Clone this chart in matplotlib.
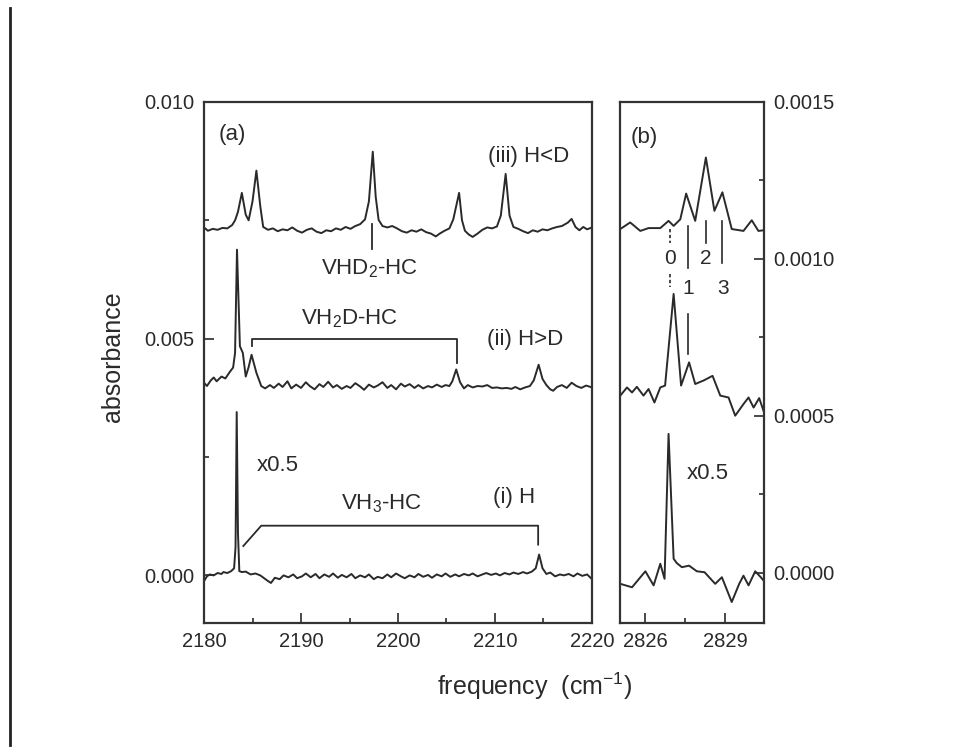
import matplotlib
matplotlib.use("Agg")
import matplotlib.pyplot as plt
from matplotlib.ticker import MultipleLocator, FormatStrFormatter
from matplotlib.lines import Line2D

# --- dati: (frequenza cm-1, assorbanza) ---
# pannello (a)
trace_iii_a = [
    (2180.0, 0.00735), (2180.4, 0.00728), (2180.9, 0.00732), (2181.4, 0.00730), (2181.9, 0.00734),
    (2182.4, 0.00733), (2182.9, 0.00740), (2183.2, 0.00750), (2183.5, 0.00768), (2183.9, 0.00808),
    (2184.3, 0.00762), (2184.6, 0.00750), (2185.0, 0.00790), (2185.4, 0.00855), (2185.8, 0.00780),
    (2186.1, 0.00736), (2186.6, 0.00730), (2187.1, 0.00733), (2187.6, 0.00727), (2188.1, 0.00731),
    (2188.6, 0.00729), (2189.1, 0.00735), (2189.6, 0.00728), (2190.1, 0.00724), (2190.6, 0.00730),
    (2191.1, 0.00733), (2191.6, 0.00726), (2192.1, 0.00723), (2192.6, 0.00729), (2193.1, 0.00727),
    (2193.6, 0.00733), (2194.1, 0.00730), (2194.6, 0.00736), (2195.1, 0.00732), (2195.6, 0.00738),
    (2196.1, 0.00742), (2196.6, 0.00752), (2197.0, 0.00790), (2197.4, 0.00895), (2197.7, 0.00800),
    (2198.0, 0.00751), (2198.4, 0.00738), (2198.9, 0.00735), (2199.4, 0.00738), (2199.9, 0.00733),
    (2200.4, 0.00727), (2200.9, 0.00724), (2201.4, 0.00729), (2201.9, 0.00726), (2202.4, 0.00731),
    (2202.9, 0.00725), (2203.4, 0.00722), (2203.9, 0.00716), (2204.3, 0.00722), (2204.8, 0.00728),
    (2205.3, 0.00733), (2205.7, 0.00752), (2206.0, 0.00780), (2206.3, 0.00808), (2206.6, 0.00750),
    (2206.9, 0.00728), (2207.3, 0.00720), (2207.7, 0.00715), (2208.2, 0.00722), (2208.7, 0.00730),
    (2209.2, 0.00735), (2209.7, 0.00733), (2210.2, 0.00737), (2210.6, 0.00760), (2211.1, 0.00848),
    (2211.5, 0.00760), (2211.9, 0.00736), (2212.4, 0.00732), (2212.9, 0.00727), (2213.4, 0.00723),
    (2213.9, 0.00729), (2214.4, 0.00726), (2214.9, 0.00731), (2215.4, 0.00729), (2215.9, 0.00733),
    (2216.4, 0.00736), (2216.9, 0.00738), (2217.5, 0.00745), (2217.9, 0.00753), (2218.3, 0.00736),
    (2218.7, 0.00729), (2219.1, 0.00736), (2219.5, 0.00731), (2220.0, 0.00735),
]

trace_ii_a = [
    (2180.0, 0.00407), (2180.3, 0.00400), (2180.7, 0.00412), (2181.0, 0.00418), (2181.3, 0.00410),
    (2181.8, 0.00420), (2182.2, 0.00416), (2182.7, 0.00431), (2183.0, 0.00439), (2183.2, 0.00470),
    (2183.4, 0.00688), (2183.7, 0.00484), (2184.0, 0.00470), (2184.3, 0.00420), (2184.6, 0.00440),
    (2184.9, 0.00466), (2185.4, 0.00428), (2185.9, 0.00400), (2186.3, 0.00395), (2186.8, 0.00402),
    (2187.2, 0.00396), (2187.7, 0.00405), (2188.1, 0.00398), (2188.6, 0.00410), (2189.0, 0.00395),
    (2189.5, 0.00403), (2190.0, 0.00396), (2190.5, 0.00408), (2190.9, 0.00400), (2191.4, 0.00393),
    (2191.9, 0.00404), (2192.3, 0.00398), (2192.8, 0.00409), (2193.3, 0.00397), (2193.7, 0.00402),
    (2194.2, 0.00394), (2194.7, 0.00400), (2195.1, 0.00396), (2195.6, 0.00406), (2196.1, 0.00399),
    (2196.5, 0.00392), (2197.0, 0.00403), (2197.5, 0.00397), (2197.9, 0.00401), (2198.4, 0.00408),
    (2198.9, 0.00396), (2199.3, 0.00402), (2199.8, 0.00393), (2200.3, 0.00405), (2200.7, 0.00399),
    (2201.2, 0.00404), (2201.7, 0.00396), (2202.1, 0.00402), (2202.6, 0.00395), (2203.1, 0.00400),
    (2203.5, 0.00397), (2204.0, 0.00403), (2204.5, 0.00398), (2204.9, 0.00402), (2205.3, 0.00400),
    (2205.6, 0.00410), (2206.0, 0.00435), (2206.4, 0.00408), (2206.8, 0.00395), (2207.2, 0.00402),
    (2207.7, 0.00397), (2208.2, 0.00400), (2208.7, 0.00399), (2209.2, 0.00402), (2209.7, 0.00396),
    (2210.2, 0.00397), (2210.7, 0.00395), (2211.2, 0.00396), (2211.7, 0.00394), (2212.1, 0.00398),
    (2212.6, 0.00393), (2213.1, 0.00397), (2213.6, 0.00400), (2214.0, 0.00412), (2214.5, 0.00445),
    (2214.9, 0.00415), (2215.3, 0.00402), (2215.7, 0.00393), (2216.0, 0.00390), (2216.4, 0.00398),
    (2216.9, 0.00402), (2217.4, 0.00396), (2217.9, 0.00407), (2218.4, 0.00400), (2218.9, 0.00396),
    (2219.4, 0.00401), (2220.0, 0.00397),
]

trace_i_a = [
    (2180.0, -0.00012), (2180.3, -0.00002), (2180.6, 0.00002), (2181.0, 0.00000), (2181.4, 0.00005),
    (2181.8, 0.00003), (2182.0, 0.00007), (2182.4, 0.00005), (2182.8, 0.00009), (2183.1, 0.00015),
    (2183.25, 0.00060), (2183.37, 0.00345), (2183.5, 0.00090), (2183.64, 0.00009), (2183.9, 0.00007),
    (2184.3, 0.00008), (2184.8, 0.00002), (2185.3, 0.00004), (2185.8, 0.00000), (2186.2, -0.00006),
    (2186.6, -0.00012), (2186.9, -0.00016), (2187.3, -0.00005), (2187.8, -0.00008), (2188.2, 0.00000),
    (2188.7, -0.00004), (2189.2, 0.00002), (2189.6, -0.00006), (2190.1, -0.00002), (2190.5, 0.00004),
    (2191.0, -0.00004), (2191.5, 0.00003), (2191.9, -0.00006), (2192.4, 0.00002), (2192.9, -0.00003),
    (2193.3, 0.00004), (2193.8, -0.00005), (2194.2, 0.00001), (2194.7, -0.00004), (2195.2, 0.00003),
    (2195.6, -0.00006), (2196.1, 0.00000), (2196.6, -0.00004), (2197.0, 0.00002), (2197.5, -0.00008),
    (2197.9, -0.00003), (2198.4, -0.00006), (2198.9, 0.00002), (2199.3, -0.00004), (2199.8, 0.00004),
    (2200.3, -0.00002), (2200.7, -0.00006), (2201.2, 0.00000), (2201.7, -0.00004), (2202.1, 0.00003),
    (2202.6, -0.00003), (2203.1, 0.00001), (2203.5, -0.00005), (2204.0, 0.00002), (2204.5, -0.00002),
    (2204.9, 0.00004), (2205.4, -0.00003), (2205.9, 0.00002), (2206.3, -0.00002), (2206.8, 0.00003),
    (2207.3, 0.00000), (2207.7, 0.00004), (2208.2, -0.00002), (2208.7, 0.00002), (2209.1, 0.00005),
    (2209.6, 0.00001), (2210.1, 0.00004), (2210.5, 0.00000), (2211.0, 0.00005), (2211.5, 0.00002),
    (2211.9, 0.00006), (2212.4, 0.00003), (2212.9, 0.00007), (2213.3, 0.00004), (2213.8, 0.00008),
    (2214.2, 0.00015), (2214.55, 0.00044), (2214.9, 0.00015), (2215.3, 0.00003), (2215.7, 0.00006),
    (2216.2, -0.00002), (2216.7, 0.00002), (2217.1, 0.00000), (2217.6, 0.00003), (2218.1, -0.00002),
    (2218.5, 0.00004), (2219.0, -0.00001), (2219.5, 0.00002), (2220.0, -0.00008),
]

# pannello (b), asse destro
trace_iii_b = [
    (2825.06, 0.001095), (2825.43, 0.001116), (2825.81, 0.001089), (2826.12, 0.001098),
    (2826.56, 0.001098), (2826.87, 0.001121), (2827.06, 0.001105), (2827.31, 0.001126),
    (2827.53, 0.001208), (2827.87, 0.001121), (2828.27, 0.001323), (2828.59, 0.001153),
    (2828.89, 0.001212), (2829.24, 0.001095), (2829.68, 0.001089), (2829.99, 0.001123),
    (2830.24, 0.001089), (2830.43, 0.001091),
]

trace_ii_b = [
    (2825.06, 0.000564), (2825.31, 0.000590), (2825.50, 0.000574), (2825.68, 0.000592),
    (2825.93, 0.000564), (2826.12, 0.000585), (2826.34, 0.000542), (2826.56, 0.000590),
    (2826.74, 0.000596), (2827.06, 0.000888), (2827.34, 0.000596), (2827.64, 0.000670),
    (2827.87, 0.000601), (2828.18, 0.000612), (2828.52, 0.000627), (2828.81, 0.000564),
    (2829.12, 0.000558), (2829.37, 0.000500), (2829.68, 0.000537), (2829.87, 0.000558),
    (2830.06, 0.000526), (2830.27, 0.000556), (2830.43, 0.000516),
]

trace_i_b = [
    (2825.06, -0.000036), (2825.50, -0.000047), (2826.00, 0.000004), (2826.31, -0.000041),
    (2826.56, 0.000028), (2826.72, -0.000020), (2826.87, 0.000442), (2827.06, 0.000044),
    (2827.18, 0.000030), (2827.37, 0.000017), (2827.64, 0.000022), (2827.93, 0.000004),
    (2828.22, 0.000001), (2828.62, -0.000036), (2828.87, -0.000015), (2829.24, -0.000094),
    (2829.52, -0.000036), (2829.68, -0.000010), (2829.87, -0.000041), (2830.12, 0.000004),
    (2830.33, -0.000015), (2830.43, -0.000025),
]

# parentesi di assegnazione (a)
bracket_vh2d = ([2184.98, 2184.98, 2206.05, 2206.05], [0.00484, 0.00499, 0.00499, 0.00449])
bracket_vh3 = ([2184.05, 2185.9, 2214.45, 2214.45], [0.00062, 0.00105, 0.00105, 0.00065])
mark_vhd2 = ([2197.3, 2197.3], [0.00742, 0.00690])

# marcatori 0-3 nel pannello (b)
marks_b = [
    ([2826.93, 2826.93], [0.001095, 0.001052], True),
    ([2826.93, 2826.93], [0.000951, 0.000909], True),
    ([2827.60, 2827.60], [0.001105, 0.000972], False),
    ([2827.60, 2827.60], [0.000824, 0.000696], False),
    ([2828.27, 2828.27], [0.001121, 0.001052], False),
    ([2828.87, 2828.87], [0.001121, 0.000988], False),
]
num_labels_b = [("0", 2826.93, 0.000983), ("1", 2827.62, 0.000888),
                ("2", 2828.28, 0.000983), ("3", 2828.90, 0.000888)]

plt.rcParams['font.family'] = ['Liberation Sans', 'DejaVu Sans']
plt.rcParams['mathtext.fontset'] = 'custom'
plt.rcParams['mathtext.rm'] = 'Liberation Sans'
plt.rcParams['mathtext.it'] = 'Liberation Sans:italic'

ink = '#2a2a2a'
fig = plt.figure(figsize=(9.61, 7.51), dpi=100)
ax_a = fig.add_axes([0.2123, 0.1708, 0.4037, 0.6934])
ax_b = fig.add_axes([0.6452, 0.1708, 0.1498, 0.6934])

for tr in (trace_iii_a, trace_ii_a, trace_i_a):
    xs, ys = zip(*tr)
    ax_a.plot(xs, ys, color=ink, lw=1.4)
for tr in (trace_iii_b, trace_ii_b, trace_i_b):
    xs, ys = zip(*tr)
    ax_b.plot(xs, ys, color=ink, lw=1.4)

# annotazioni (a)
for bx, by in (bracket_vh2d, bracket_vh3, mark_vhd2):
    ax_a.plot(bx, by, color=ink, lw=1.3)
txt = dict(color=ink, fontsize=16, va='baseline')
ax_a.text(2181.5, 0.0092, "(a)", **txt)
ax_a.text(2209.3, 0.00874, "(iii) H<D", **txt)
ax_a.text(2209.2, 0.00487, "(ii) H>D", **txt)
ax_a.text(2209.8, 0.00152, "(i) H", **txt)
ax_a.text(2185.4, 0.0022, "x0.5", **txt)
ax_a.text(2197.1, 0.00635, "VHD$_2$-HC", ha='center', **txt)
ax_a.text(2195.05, 0.0053, "VH$_2$D-HC", ha='center', **txt)
ax_a.text(2198.3, 0.00139, "VH$_3$-HC", ha='center', **txt)

# annotazioni (b)
for mx, my, dashed in marks_b:
    ax_b.plot(mx, my, color=ink, lw=1.2, linestyle=(0, (2, 1.5)) if dashed else '-')
for s, xx, yy in num_labels_b:
    ax_b.text(xx, yy, s, ha='center', color=ink, fontsize=15, va='baseline')
ax_b.text(2825.46, 0.00137, "(b)", **txt)
ax_b.text(2827.56, 0.000298, "x0.5", **txt)

# assi
ax_a.set_xlim(2180, 2220)
ax_a.set_ylim(-0.001, 0.010)
ax_a.xaxis.set_major_locator(MultipleLocator(10))
ax_a.xaxis.set_minor_locator(MultipleLocator(5))
ax_a.yaxis.set_major_locator(MultipleLocator(0.005))
ax_a.yaxis.set_minor_locator(MultipleLocator(0.0025))
ax_a.yaxis.set_major_formatter(FormatStrFormatter('%.3f'))
ax_a.tick_params(which='both', direction='in', right=False, top=False, colors=ink,
                 labelsize=14.5, pad=7, width=1.2)
ax_a.tick_params(which='major', length=7)
ax_a.tick_params(which='minor', length=3.5)

ax_b.set_xlim(2825.05, 2830.45)
ax_b.set_ylim(-0.00016, 0.0015)
ax_b.xaxis.set_major_locator(MultipleLocator(3))
ax_b.xaxis.set_minor_locator(MultipleLocator(1.5))
ax_b.yaxis.tick_right()
ax_b.yaxis.set_major_locator(MultipleLocator(0.0005))
ax_b.yaxis.set_minor_locator(MultipleLocator(0.00025))
ax_b.yaxis.set_major_formatter(FormatStrFormatter('%.4f'))
ax_b.tick_params(which='both', direction='in', left=False, top=False, colors=ink,
                 labelsize=14.5, pad=7, width=1.2)
ax_b.tick_params(which='major', length=7)
ax_b.tick_params(which='minor', length=3.5)

for ax in (ax_a, ax_b):
    for sp in ax.spines.values():
        sp.set_linewidth(1.6)
        sp.set_color('#333333')

fig.text(0.118, 0.525, "absorbance", rotation=90, ha='center', va='center',
         fontsize=18, color=ink)
fig.text(0.556, 0.075, "frequency  (cm$^{-1}$)", ha='center', va='baseline',
         fontsize=18, color=ink)

# linea verticale sul bordo sinistro
fig.add_artist(Line2D([0.0104, 0.0104], [0.008, 0.99], transform=fig.transFigure,
                      color='#222222', lw=2))

fig.savefig("out.png", dpi=100)
